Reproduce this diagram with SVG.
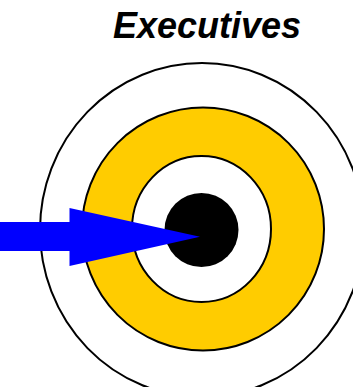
<svg xmlns="http://www.w3.org/2000/svg" width="353" height="387" viewBox="0 0 353 387">
<style>
.ring{stroke:#000;stroke-width:2}
.title{font-family:"Liberation Sans",Arial,sans-serif;font-weight:bold;font-style:italic;font-size:36px;fill:#000}
</style>
<rect width="353" height="387" fill="#fff"/>
<g id="title"><text class="title" x="207" y="38" text-anchor="middle">Executives</text></g>
<g id="target">
<ellipse class="ring" cx="202" cy="230" rx="162" ry="167" fill="#fff"/>
<ellipse class="ring" cx="203" cy="229" rx="121" ry="121.5" fill="#FFCC00"/>
<ellipse class="ring" cx="201.5" cy="229" rx="69.5" ry="73" fill="#fff"/>
<circle cx="201.5" cy="230" r="37" fill="#000"/>
</g>
<g id="connectors">
<polygon points="0,222 69.5,222 69.5,208 200,236.7 69.5,266 69.5,251 0,251" fill="#0000FF"/>
</g>
</svg>
